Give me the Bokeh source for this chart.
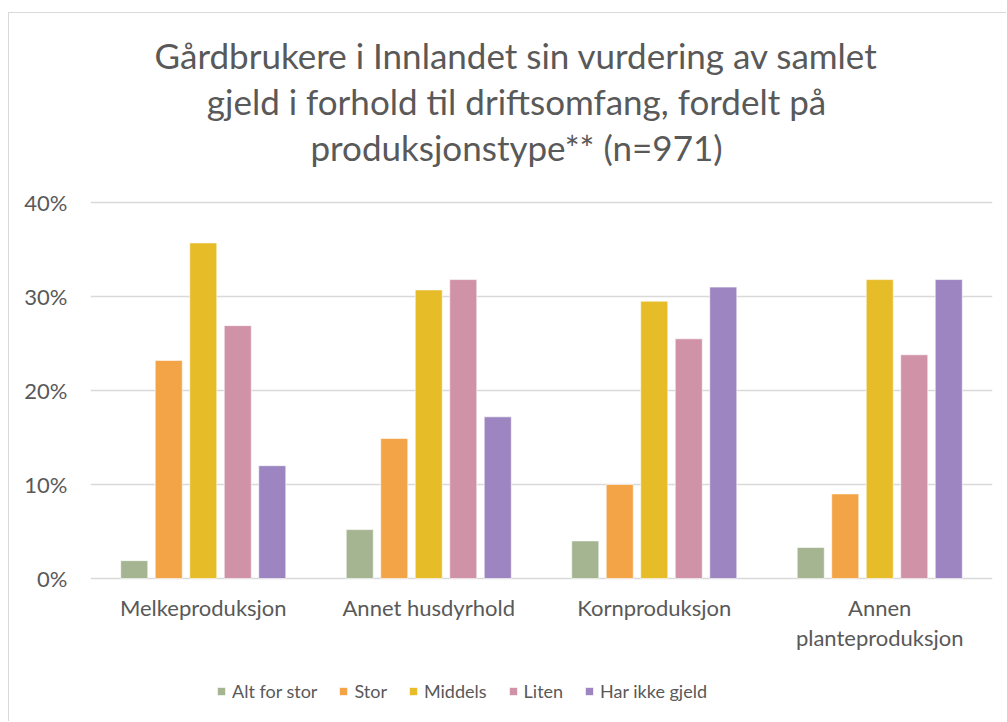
from bokeh.plotting import figure
from bokeh.models import (FactorRange, Range1d, Label, Legend, LegendItem,
                          NumeralTickFormatter, FixedTicker, ColumnDataSource)
from bokeh.transform import dodge
from bokeh.embed import file_html
from bokeh.resources import INLINE

# ---------------- data ----------------
categories = ["Melkeproduksjon", "Annet husdyrhold", "Kornproduksjon", "Annen planteproduksjon"]
category_lines = [["Melkeproduksjon"], ["Annet husdyrhold"], ["Kornproduksjon"],
                  ["Annen", "planteproduksjon"]]
series_names = ["Alt for stor", "Stor", "Middels", "Liten", "Har ikke gjeld"]
alt_for_stor = [0.019, 0.052, 0.040, 0.033]
stor = [0.232, 0.149, 0.100, 0.090]
middels = [0.357, 0.307, 0.295, 0.318]
liten = [0.269, 0.318, 0.255, 0.238]
har_ikke_gjeld = [0.120, 0.172, 0.310, 0.318]
colors = ["#A5B592", "#F3A447", "#E7BC29", "#D092A7", "#9C85C0"]
title_lines = ["Gårdbrukere i Innlandet sin vurdering av samlet",
               "gjeld i forhold til driftsomfang, fordelt på",
               "produksjonstype** (n=971)"]
y_ticks = [0, 0.1, 0.2, 0.3, 0.4]

FONT = "Lato"
TXT = "#595959"

cols = ["s0", "s1", "s2", "s3", "s4"]
source = ColumnDataSource(data=dict(cat=categories, s0=alt_for_stor, s1=stor,
                                    s2=middels, s3=liten, s4=har_ikke_gjeld))

OX, OY = 9, 13                      # chart-area offset inside the page (margin + border)
W, H = 1007 - OX, 722 - OY
FL, FR = 90 - OX, 992 - OX          # plot area left/right
ZERO_Y, TOP_Y = 578 - OY, 202 - OY  # rows of 0% and 40%
px = 0.4 / (ZERO_Y - TOP_Y)

p = figure(width=W, height=H,
           x_range=FactorRange(*categories, range_padding=0),
           y_range=Range1d(-(H - ZERO_Y) * px, ZERO_Y * px),
           min_border_left=FL, min_border_right=W - FR,
           min_border_top=0, min_border_bottom=0,
           output_backend="svg", toolbar_location=None)
p.outline_line_color = None
p.background_fill_color = "white"
p.border_fill_color = "white"
p.styles = {"margin-left": "8px", "margin-top": "12px",
            "border-left": "1px solid #d9d9d9", "border-top": "1px solid #d9d9d9"}

bar_w = 0.12
pitch = 0.153
renderers = []
for i, c in enumerate(cols):
    r = p.vbar(x=dodge("cat", (i - 2) * pitch, range=p.x_range), top=c, width=bar_w,
               source=source, fill_color=colors[i], line_color="white",
               line_alpha=0.6, line_width=1)
    renderers.append(r)

# axes
p.xaxis.visible = False
p.xgrid.grid_line_color = None
p.ygrid.grid_line_color = "#d9d9d9"
p.ygrid.grid_line_width = 1.3
p.yaxis.ticker = FixedTicker(ticks=y_ticks)
p.yaxis.formatter = NumeralTickFormatter(format="0%")
p.yaxis.axis_line_color = None
p.yaxis.major_tick_line_color = None
p.yaxis.minor_tick_line_color = None
p.yaxis.major_tick_out = 0
p.yaxis.major_tick_in = 0
p.yaxis.major_label_standoff = 23
p.yaxis.major_label_text_font = FONT
p.yaxis.major_label_text_font_size = "22px"
p.yaxis.major_label_text_color = TXT

def ypix(row):
    # row given in page pixels
    return (ZERO_Y - (row - OY)) * px

# category labels
for i, lines in enumerate(category_lines):
    for j, line in enumerate(lines):
        p.add_layout(Label(x=i + 0.5, y=ypix(607 + 30 * j), text=line,
                           text_align="center", text_baseline="alphabetic",
                           text_font=FONT, text_font_size="22px", text_color=TXT))

# title
title_x = (516 - 90) / ((FR - FL) / 4.0)
for line, row in zip(title_lines, [54.5, 100, 146]):
    p.add_layout(Label(x=title_x, y=ypix(row), text=line,
                       text_align="center", text_baseline="alphabetic",
                       text_font=FONT, text_font_size="35px", text_color=TXT))

# legend
items = [LegendItem(label=n, renderers=[r]) for n, r in zip(series_names, renderers)]
legend = Legend(items=items, orientation="horizontal", location=(216 - 90, 20),
                padding=0, margin=0, spacing=21, label_standoff=6,
                glyph_width=10, glyph_height=10, label_height=20,
                border_line_color=None, background_fill_alpha=0,
                label_text_font=FONT, label_text_font_size="18px",
                label_text_color=TXT)
p.add_layout(legend)

open("out.html", "w").write(file_html(p, INLINE))
